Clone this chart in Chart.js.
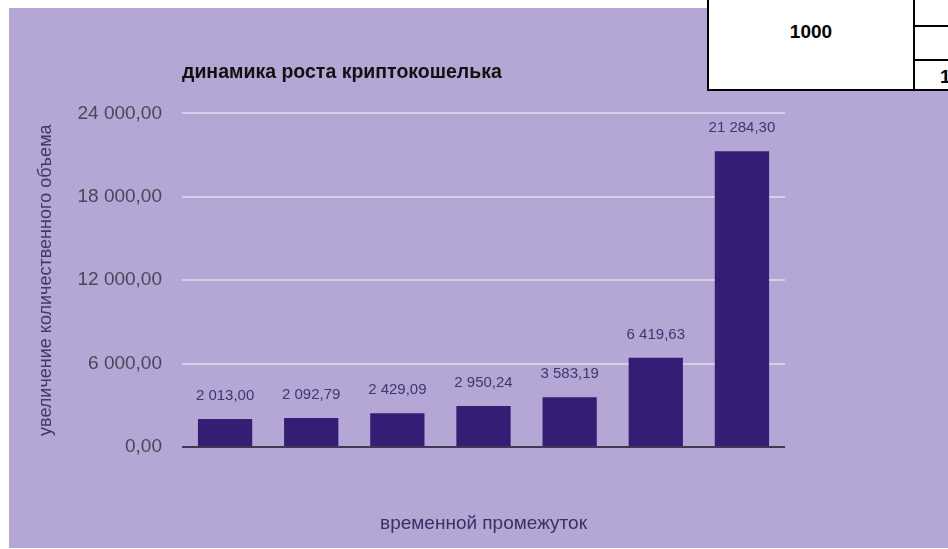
<!DOCTYPE html>
<html lang="ru">
<head>
<meta charset="utf-8">
<title>динамика роста криптокошелька</title>
<script src="https://cdn.jsdelivr.net/npm/chart.js@4.4.1/dist/chart.umd.min.js"></script>
<style>
  html, body { margin: 0; padding: 0; background: #fff; }
  body { width: 948px; height: 549px; position: relative; overflow: hidden; font-family: "Liberation Sans", Arial, sans-serif; }
  #wrap { position: absolute; left: 9px; top: 8px; width: 939px; height: 540px; background: #b4a7d6; }
  #sheet { position: absolute; left: 707px; top: -4px; width: 260px; height: 95px; background: #fff; border: 2px solid #000; box-sizing: border-box; }
  #sheet .vline { position: absolute; left: 204px; top: 0; width: 2px; height: 100%; background: #000; }
  #sheet .hline { position: absolute; left: 206px; width: 60px; height: 2px; background: #000; }
  #sheet .cell { position: absolute; font-weight: bold; color: #000; }
</style>
</head>
<body>
<div id="wrap"><canvas id="chart" width="939" height="540"></canvas></div>
<div id="sheet">
  <div class="vline"></div>
  <div class="hline" style="top:27px"></div>
  <div class="hline" style="top:61px"></div>
  <div class="cell" id="cellMain" style="left:0;width:204px;top:22px;text-align:center;font-size:19px;line-height:24px"></div>
  <div class="cell" id="cellSide" style="left:231px;top:67px;font-size:19px;line-height:24px"></div>
</div>
<script>
const chartTitle = 'динамика роста криптокошелька';
const yTitle = 'увеличение количественного объема';
const xTitle = 'временной промежуток';
const categories = ['', '', '', '', '', '', ''];
const values = [2013.00, 2092.79, 2429.09, 2950.24, 3583.19, 6419.63, 21284.30];
const yTicks = [0, 6000, 12000, 18000, 24000];
const sheetMain = '1000';
const sheetSide = '1';

document.getElementById('cellMain').textContent = sheetMain;
document.getElementById('cellSide').textContent = sheetSide;

function fmt(v) {
  const parts = Math.abs(v).toFixed(2).split('.');
  const whole = parts[0].replace(/\B(?=(\d{3})+(?!\d))/g, ' ');
  return (v < 0 ? '-' : '') + whole + ',' + parts[1];
}

const valueLabels = {
  id: 'valueLabels',
  afterDatasetsDraw(chart) {
    const { ctx } = chart;
    const meta = chart.getDatasetMeta(0);
    ctx.save();
    ctx.font = '15px "Liberation Sans", Arial, sans-serif';
    ctx.fillStyle = '#3d3672';
    ctx.textAlign = 'center';
    ctx.textBaseline = 'middle';
    meta.data.forEach((bar, i) => {
      ctx.fillText(fmt(values[i]), bar.x, bar.y - 23);
    });
    ctx.restore();
  }
};

new Chart(document.getElementById('chart'), {
  type: 'bar',
  data: {
    labels: categories,
    datasets: [{
      data: values,
      backgroundColor: '#351c75',
      borderWidth: 0,
      barPercentage: 0.63,
      categoryPercentage: 1,
    }],
  },
  options: {
    responsive: false,
    animation: false,
    devicePixelRatio: 1,
    layout: { padding: { left: 0, right: 163, top: 0, bottom: 0 } },
    plugins: {
      legend: { display: false },
      tooltip: { enabled: false },
      title: {
        display: true, text: chartTitle, align: 'start', fullSize: false,
        color: '#111', padding: { top: 53, bottom: 29 },
        font: { family: '"Liberation Sans", Arial, sans-serif', size: 19.5, weight: 'bold', lineHeight: 1.2 },
      },
    },
    scales: {
      x: {
        grid: { display: false },
        border: { display: false },
        ticks: { display: false },
        title: {
          display: true, text: xTitle, color: '#3a2f66',
          padding: { top: 0, bottom: 13 },
          font: { family: '"Liberation Sans", Arial, sans-serif', size: 19, lineHeight: 1.2 },
        },
        afterFit: s => { s.height = 101; },
      },
      y: {
        min: 0, max: 24000,
        afterBuildTicks: s => { s.ticks = yTicks.map(v => ({ value: v })); },
        grid: {
          drawTicks: false,
          lineWidth: 2,
          color: c => (c.tick && c.tick.value === 0 ? '#3e3a55' : '#d6cfe8'),
        },
        border: { display: false },
        ticks: {
          padding: 20, color: '#4a4658',
          font: { family: '"Liberation Sans", Arial, sans-serif', size: 19 },
          callback: v => fmt(v),
        },
        title: {
          display: true, text: yTitle, color: '#3f3a68',
          padding: { top: 26, bottom: 0 },
          font: { family: '"Liberation Sans", Arial, sans-serif', size: 18, lineHeight: 1.2 },
        },
        afterFit: s => { s.width = 173; },
      },
    },
  },
  plugins: [valueLabels],
});
</script>
</body>
</html>
